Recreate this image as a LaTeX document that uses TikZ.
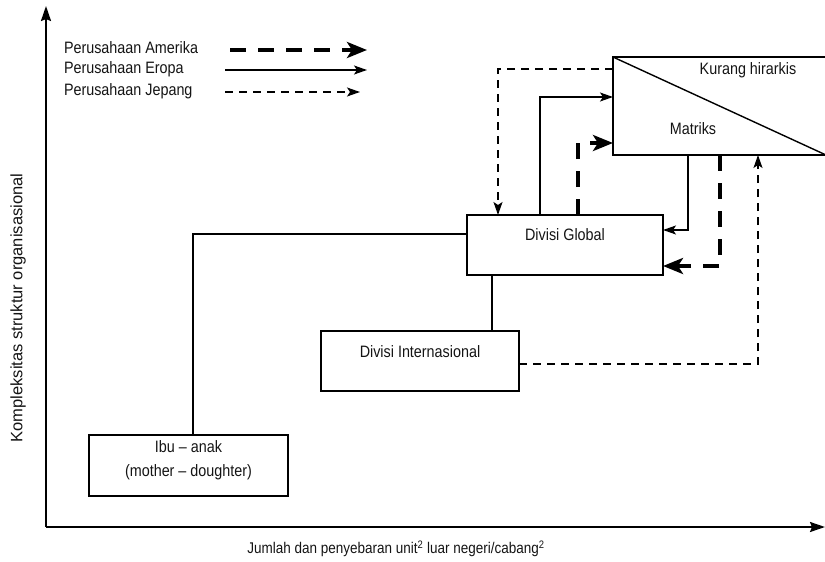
\documentclass[tikz,border=0pt]{standalone}
\usepackage{fontspec}
\setmainfont{Liberation Sans}[FakeStretch=0.87]
\newfontfamily\widesans{Liberation Sans}
\usetikzlibrary{arrows.meta,calc}

\begin{document}
\begin{tikzpicture}[x=1pt,y=-1pt,
  font=\fontsize{16.5}{19}\selectfont,
  every node/.style={inner sep=0pt, outer sep=0pt},
  box/.style={draw, line width=1.4pt, rectangle},
  lbl/.style={text=black!92},
  axis/.style={line width=2pt, -{Stealth[length=15pt,width=10pt,inset=2pt]}},
  eu/.style={line width=1.4pt, -{Stealth[length=13pt,width=9pt,inset=3pt]}},
  jp/.style={line width=1.4pt, dash pattern=on 8pt off 6pt,
             -{Stealth[length=13pt,width=9pt,inset=3pt]}},
  am/.style={line width=4pt, dash pattern=on 16pt off 12pt,
             -{Stealth[length=20pt,width=16pt,inset=5pt]}},
  plain/.style={line width=1.4pt}]

\useasboundingbox (0,0) rectangle (825,562);

% axes
\coordinate (o) at (46,527);
\coordinate (ytop) at (46,6);
\coordinate (xend) at (825,527);
\draw[axis] (o) -- (ytop);
\draw[axis] (o) -- (xend);
\node[lbl, rotate=90, font=\widesans\fontsize{16.5}{19}\selectfont] (ylab) at (18,308)
  {Kompleksitas struktur organisasional};
\node[lbl, font=\fontsize{15.5}{18}\selectfont] (xlab) at (396,549)
  {Jumlah dan penyebaran unit\textsuperscript{2} luar negeri/cabang\textsuperscript{2}};

% legend
\node[lbl, anchor=west] (lam) at (64,48) {Perusahaan Amerika};
\node[lbl, anchor=west] (leu) at (64,69) {Perusahaan Eropa};
\node[lbl, anchor=west] (ljp) at (64,91) {Perusahaan Jepang};
\coordinate (am1) at (230,50);  \coordinate (am2) at (367,50);
\coordinate (eu1) at (225,70);  \coordinate (eu2) at (367,70);
\coordinate (jp1) at (225,92);  \coordinate (jp2) at (360,92);
\draw[am] (am1) -- (am2);
\draw[eu] (eu1) -- (eu2);
\draw[jp] (jp1) -- (jp2);

% structure boxes
\node[box, minimum width=199pt, minimum height=61pt] (ibu) at (188.5,465.5) {};
\node[lbl, align=center, font=\fontsize{16.5}{24}\selectfont] (ibut) at (188.5,460)
  {Ibu -- anak\\(mother -- doughter)};

\node[box, minimum width=198pt, minimum height=60pt] (intl) at (420,361) {};
\node[lbl] (intlt) at ([yshift=-21pt]intl.north) {Divisi Internasional};

\node[box, minimum width=196pt, minimum height=60pt] (glob) at (565,245) {};
\node[lbl] (globt) at ([yshift=-20pt]glob.north) {Divisi Global};

\node[box, minimum width=213pt, minimum height=98pt] (mat) at (719.5,106) {};
\draw[plain] (mat.north west) -- (mat.south east);
\node[lbl] (kur) at (748,70) {Kurang hirarkis};
\node[lbl] (matt) at (693,129) {Matriks};

% solid links between structures
\draw[plain] ($(ibu.north)+(4.5,0)$) |- ($(glob.west)+(0,-11)$);
\coordinate (c1) at ($(intl.north)+(72,0)$);
\draw[plain] (c1) -- (c1 |- glob.south);

% Japanese paths
\draw[jp] ($(intl.east)+(0,3)$) -| ($(mat.south)+(38.5,0)$);
\draw[jp] ($(mat.west)+(0,-37)$) -| ($(glob.north)+(-67,0)$);

% European paths
\draw[eu] ($(glob.north)+(-25,0)$) |- ($(mat.west)+(0,-9)$);
\draw[eu] ($(mat.south)+(-31.5,0)$) |- ($(glob.east)+(0,-15)$);

% American paths
\draw[am] ($(glob.north)+(13,0)$) |- ($(mat.west)+(0,37)$);
\draw[am] ($(mat.south)+(0.5,0)$) |- ($(glob.east)+(0,21)$);

\end{tikzpicture}
\end{document}
